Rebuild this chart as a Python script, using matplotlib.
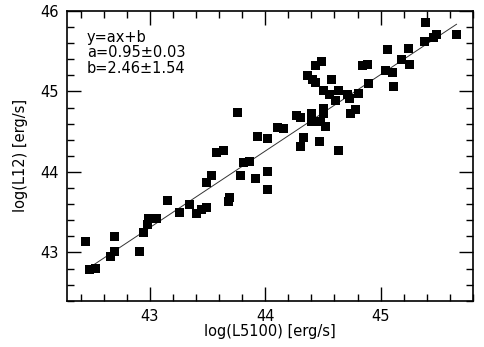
import numpy as np
import matplotlib
matplotlib.use('Agg')
import matplotlib.pyplot as plt
from matplotlib.ticker import MultipleLocator

plt.rcParams['font.family'] = ['DejaVu Sans']
plt.rcParams['xtick.direction'] = 'in'
plt.rcParams['ytick.direction'] = 'in'
plt.rcParams['xtick.top'] = True
plt.rcParams['ytick.right'] = True

# log(L5100), log(L12)
log_l5100 = [42.443, 42.478, 42.530, 42.690, 42.690, 42.655, 42.906, 42.944, 42.978, 42.987,
             43.059, 43.154, 43.256, 43.343, 43.401, 43.444, 43.487, 43.487, 43.531, 43.574,
             43.640, 43.683, 43.692, 43.785, 43.808, 43.866, 43.915, 43.930, 44.022, 44.016,
             44.022, 43.761, 44.108, 44.155, 44.273, 44.303, 44.334, 44.305, 44.403, 44.398,
             44.476, 44.525, 44.507, 44.507, 44.473, 44.632, 44.435, 44.487, 44.369, 44.407,
             44.435, 44.572, 44.502, 44.559, 44.637, 44.613, 44.717, 44.726, 44.804, 44.840,
             44.884, 44.898, 44.743, 44.778, 45.389, 45.658, 45.459, 45.485, 45.380, 45.245,
             45.057, 45.181, 45.251, 45.042, 45.099, 45.112]
log_l12 = [43.135, 42.782, 42.803, 43.197, 43.010, 42.948, 43.010, 43.247, 43.343, 43.427,
           43.427, 43.642, 43.501, 43.592, 43.489, 43.530, 43.564, 43.871, 43.954, 44.245,
           44.270, 43.634, 43.684, 43.954, 44.120, 44.133, 43.913, 44.444, 44.412, 44.008,
           43.788, 44.744, 44.557, 44.537, 44.706, 44.674, 44.424, 44.312, 44.724, 44.632,
           44.624, 44.569, 44.790, 44.728, 44.382, 44.270, 45.326, 45.367, 45.202, 45.143,
           45.111, 45.152, 45.018, 44.958, 45.006, 44.893, 44.958, 44.915, 44.971, 45.318,
           45.339, 45.096, 44.728, 44.771, 45.859, 45.713, 45.669, 45.707, 45.617, 45.535,
           45.517, 45.401, 45.339, 45.255, 45.235, 45.061]

a, b = 0.95, 2.46
a_err, b_err = 0.03, 1.54

fig = plt.figure(figsize=(4.85, 3.47), dpi=100)
ax = fig.add_axes([0.138, 0.1334, 0.837, 0.8349])

ax.scatter(log_l5100, log_l12, marker='s', s=42, color='black', edgecolors='none', zorder=3)

xfit = np.array([min(log_l5100), max(log_l5100)])
ax.plot(xfit, a * xfit + b, color='#333333', lw=0.7, zorder=2)

ax.set_xlim(42.28, 45.8)
ax.set_ylim(42.4, 46.0)
ax.xaxis.set_major_locator(MultipleLocator(1))
ax.xaxis.set_minor_locator(MultipleLocator(0.2))
ax.yaxis.set_major_locator(MultipleLocator(1))
ax.yaxis.set_minor_locator(MultipleLocator(0.2))
ax.tick_params(which='major', length=10, width=1, labelsize=10.5, pad=6)
ax.tick_params(which='minor', length=5, width=1)
for sp in ax.spines.values():
    sp.set_linewidth(1.2)

ax.set_xlabel('log(L5100) [erg/s]', fontsize=10.5, labelpad=0)
ax.set_ylabel('log(L12) [erg/s]', fontsize=10.5, labelpad=9)

ax.text(0.049, 0.935,
        'y=ax+b\na=%.2f\u00b1%.2f\nb=%.2f\u00b1%.2f' % (a, a_err, b, b_err),
        transform=ax.transAxes, ha='left', va='top', fontsize=10.5, linespacing=1.05)

plt.savefig('out.png', dpi=100)
